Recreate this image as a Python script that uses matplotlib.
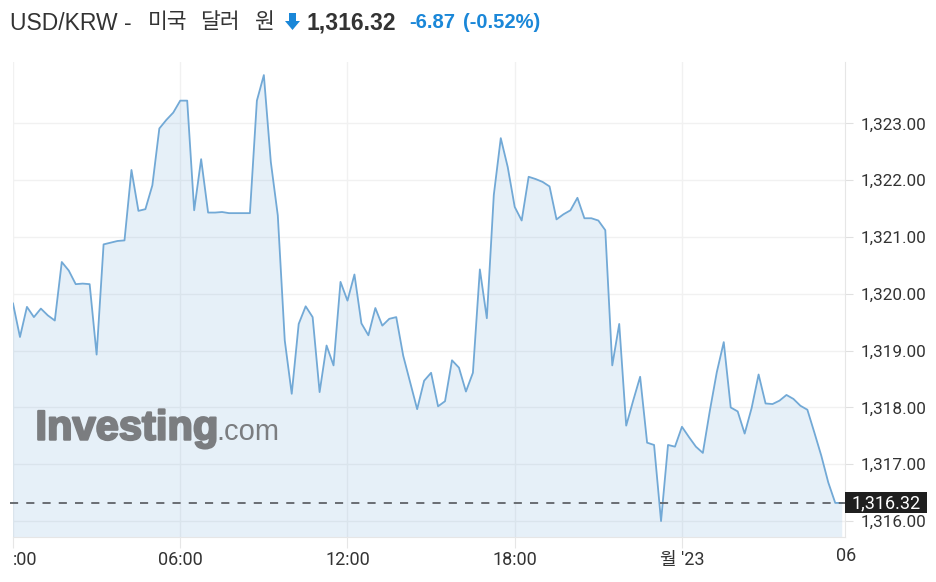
import numpy as np
import matplotlib
matplotlib.use("Agg")
import matplotlib.pyplot as plt
from matplotlib.patches import Polygon, Rectangle
import matplotlib.patheffects as pe

# ---------------- data ----------------
prices = [
    1319.83, 1319.24, 1319.77, 1319.59, 1319.74, 1319.62, 1319.53, 1320.56, 1320.41, 1320.17,
    1320.18, 1320.17, 1318.93, 1320.87, 1320.90, 1320.93, 1320.94, 1322.18, 1321.46, 1321.49,
    1321.91, 1322.91, 1323.06, 1323.19, 1323.40, 1323.40, 1321.47, 1322.37, 1321.43, 1321.43,
    1321.44, 1321.42, 1321.42, 1321.42, 1321.42, 1323.40, 1323.85, 1322.32, 1321.38, 1319.18,
    1318.24, 1319.47, 1319.78, 1319.59, 1318.27, 1319.09, 1318.74, 1320.21, 1319.88, 1320.34,
    1319.48, 1319.27, 1319.75, 1319.44, 1319.56, 1319.59, 1318.91, 1318.44, 1317.97, 1318.47,
    1318.61, 1318.02, 1318.11, 1318.83, 1318.70, 1318.28, 1318.61, 1320.43, 1319.57, 1321.74,
    1322.74, 1322.23, 1321.53, 1321.29, 1322.06, 1322.02, 1321.97, 1321.89, 1321.31, 1321.40,
    1321.47, 1321.69, 1321.33, 1321.33, 1321.29, 1321.12, 1318.74, 1319.47, 1317.68, 1318.12,
    1318.54, 1317.38, 1317.34, 1316.00, 1317.34, 1317.31, 1317.66, 1317.48, 1317.31, 1317.20,
    1317.94, 1318.62, 1319.15, 1318.00, 1317.93, 1317.54, 1317.99, 1318.58, 1318.07, 1318.06,
    1318.12, 1318.22, 1318.15, 1318.03, 1317.96, 1317.56, 1317.15, 1316.68, 1316.32, 1316.32,
]
step_hours = 0.25  # 15-minute bars
hours = np.arange(len(prices)) * step_hours

x_tick_pos = [0, 6, 12, 18, 24, 30]
x_tick_labels = [":00", "06:00", "12:00", "18:00", "월 '23", "06"]
y_ticks = [1316, 1317, 1318, 1319, 1320, 1321, 1322, 1323]
last_price = 1316.32
title_pair = "USD/KRW -"
title_words = ["미국", "달러", "원"]
title_price = "1,316.32"
title_change = "-6.87"
title_pct = "(-0.52%)"

# ---------------- figure ----------------
W, H = 937, 582
fig = plt.figure(figsize=(W / 100, H / 100), dpi=100)
fig.patch.set_facecolor("white")

def fx(x):
    return x / W

def fy(y):
    return 1 - y / H

ax_l, ax_r, ax_t, ax_b = 13, 845, 62, 537
ax = fig.add_axes([fx(ax_l), fy(ax_b), fx(ax_r - ax_l), (ax_b - ax_t) / H])
ax.set_facecolor("white")

line_col = "#72a9d6"
ax.fill_between(hours, prices, 1300, color="#5b9bd5", alpha=0.15, lw=0, zorder=2)
ax.plot(hours, prices, color=line_col, lw=1.3, zorder=3)

ax.set_xlim(0, 29.85)
ax.set_ylim(1315.72, 1324.08)

# grid
for yv in y_ticks:
    ax.axhline(yv, color="#f1f1f1", lw=1, zorder=1)
for xv in x_tick_pos:
    ax.axvline(xv, color="#f1f1f1", lw=1, zorder=1)

# last price dashed line
ax.axhline(last_price, color="#5f6368", lw=1.3, ls=(0, (4.5, 4.5)), zorder=4, xmin=-0.004, clip_on=False)

for s in ["top", "left"]:
    ax.spines[s].set_visible(False)
ax.spines["right"].set_color("#e6e6e6")
ax.spines["bottom"].set_color("#e6e6e6")

ax.yaxis.tick_right()
ax.set_yticks(y_ticks)
ax.set_yticklabels([f"{v:,.2f}" for v in y_ticks], fontfamily="Roboto", fontsize=12.3, color="#333333")
ax.tick_params(axis="y", length=6, color="#e0e0e0", pad=5)

ax.set_xticks(x_tick_pos[:-1])
ax.set_xticklabels(x_tick_labels[:-1], fontfamily=["Roboto", "Noto Sans CJK KR"], fontsize=13, color="#333333")
ax.tick_params(axis="x", length=8, color="#e6e6e6", pad=2)
xl = ax.get_xticklabels()
xl[0].set_ha("left")
xl[0].set_x(-0.025)
# last (clipped) tick label at the right edge
ax.text(x_tick_pos[-1] - 0.12, -0.0215, x_tick_labels[-1], transform=ax.get_xaxis_transform(),
        ha="center", va="top", fontfamily="Roboto", fontsize=13, color="#333333", clip_on=False)

# current price box
bx0, bx1, by0, by1 = 845, 927, 492, 513
fig.add_artist(Rectangle((fx(bx0), fy(by1)), fx(bx1 - bx0), (by1 - by0) / H,
                         transform=fig.transFigure, facecolor="#1f1f1f", edgecolor="none", zorder=10))
fig.text(fx((bx0 + bx1) / 2), fy((by0 + by1) / 2 + 0.5), f"{last_price:,.2f}", ha="center", va="center",
         fontfamily="Roboto", fontsize=13, color="white", zorder=11)

# watermark
wm_col = "#7b7d80"
thick = [pe.withStroke(linewidth=1.6, foreground=wm_col)]
ax.text(0.027, 0.205, "Investing", transform=ax.transAxes, fontfamily="Liberation Sans", fontweight="bold",
        fontsize=30, color=wm_col, ha="left", va="baseline", zorder=5, path_effects=thick)
ax.text(0.245, 0.205, ".com", transform=ax.transAxes, fontfamily="Liberation Sans",
        fontsize=21, color=wm_col, ha="left", va="baseline", zorder=5)

# title
fam = ["Liberation Sans", "Noto Sans CJK KR"]
fig.text(fx(10), fy(23), title_pair, fontfamily=fam, fontsize=16.5, color="#333333", ha="left", va="center")
for word, xpos in zip(title_words, [148, 200, 254]):
    fig.text(fx(xpos), fy(23), word, fontfamily=fam, fontsize=15.5, color="#333333", ha="left", va="center")
# down arrow
ac = "#1a87d8"
arrow = [(285, 21), (289, 21), (289, 13), (296, 13), (296, 21), (300, 21), (292.5, 30)]
fig.add_artist(Polygon([(fx(a), fy(b)) for a, b in arrow], closed=True, transform=fig.transFigure,
                       facecolor=ac, edgecolor="none"))
fig.text(fx(306), fy(23), title_price, fontfamily="Liberation Sans", fontweight="bold", fontsize=16.5,
         color="#333333", ha="left", va="center")
fig.text(fx(409), fy(23), title_change, fontfamily="Liberation Sans", fontweight="bold", fontsize=14.5,
         color=ac, ha="left", va="center")
fig.text(fx(463), fy(23), title_pct, fontfamily="Liberation Sans", fontweight="bold", fontsize=14.5,
         color=ac, ha="left", va="center")

fig.savefig("out.png", dpi=100, facecolor="white")
